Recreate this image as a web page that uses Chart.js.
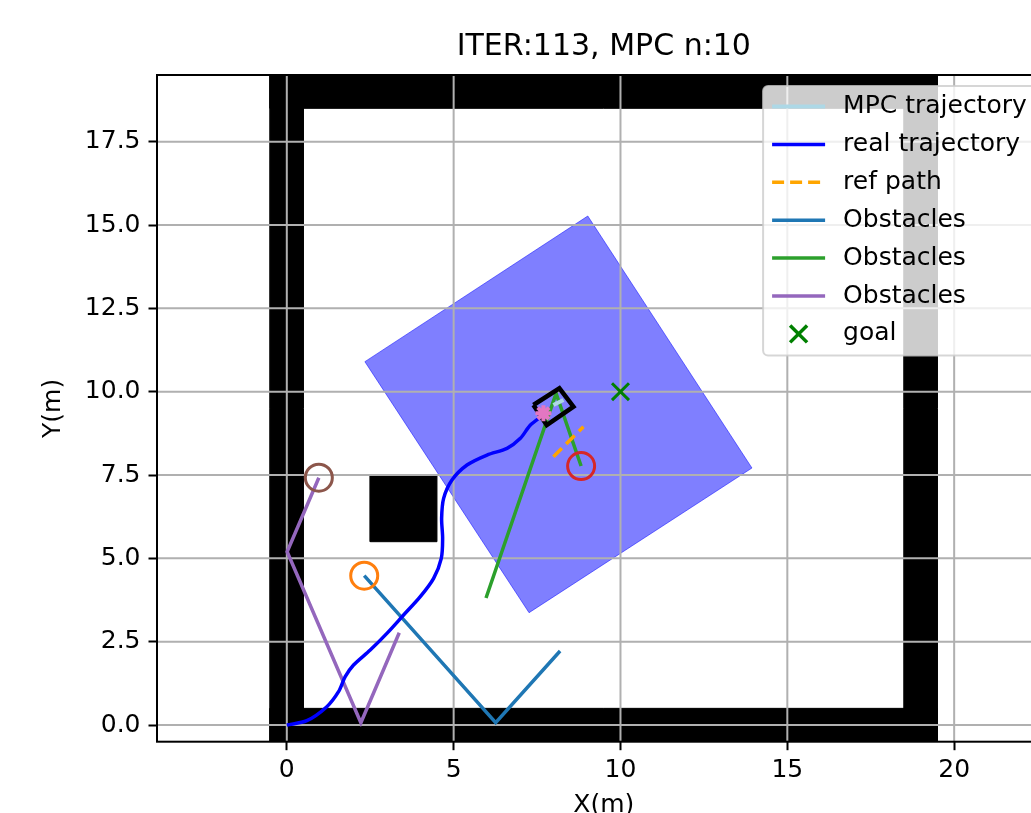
<!DOCTYPE html>
<html>
<head>
<meta charset="utf-8">
<title>ITER:113, MPC n:10</title>
<script src="https://cdn.jsdelivr.net/npm/chart.js@4.4.1/dist/chart.umd.min.js"></script>
<style>
  html, body { margin: 0; padding: 0; background: #fff; overflow: hidden; }
  #wrap { width: 1100px; height: 813px; }
</style>
</head>
<body>
<div id="wrap"><canvas id="plot" width="1100" height="813"></canvas></div>
<script>
/* ---------- data (metres) ---------- */
const xTicks = [0, 5, 10, 15, 20];
const xTickLabels = ['0', '5', '10', '15', '20'];
const yTicks = [0, 2.5, 5, 7.5, 10, 12.5, 15, 17.5];
const yTickLabels = ['0.0', '2.5', '5.0', '7.5', '10.0', '12.5', '15.0', '17.5'];

// walls of the room + square block
const wallBottom = [[-0.5, -0.5], [19.5, -0.5], [19.5, 0.5], [-0.5, 0.5]];
const wallTop = [[-0.5, 18.5], [19.5, 18.5], [19.5, 19.5], [-0.5, 19.5]];
const wallLeft = [[-0.5, -0.5], [0.5, -0.5], [0.5, 19.5], [-0.5, 19.5]];
const wallRight = [[18.5, -0.5], [19.5, -0.5], [19.5, 19.5], [18.5, 19.5]];
const block = [[2.5, 5.5], [4.5, 5.5], [4.5, 7.5], [2.5, 7.5]];

// sensing area (blue rectangle)
const sensorArea = [[2.34, 10.90], [9.02, 15.27], [13.94, 7.71], [7.26, 3.37]];

// trajectories
const realTraj = [
  [0.00, 0.00], [0.60, 0.13], [1.20, 0.55], [1.55, 1.00], [1.75, 1.45],
  [2.00, 1.80], [2.50, 2.25], [3.00, 2.75], [3.50, 3.30], [4.00, 3.85],
  [4.40, 4.40], [4.63, 5.00], [4.67, 5.60], [4.64, 6.20], [4.70, 6.80],
  [4.95, 7.35], [5.40, 7.80], [6.00, 8.10], [6.60, 8.30], [7.00, 8.60],
  [7.30, 9.00], [7.69, 9.30]
];
const mpcTraj = [[7.99, 9.60], [8.29, 9.75]];
const refPath = [[7.99, 8.05], [8.89, 8.95]];
const vehicle = [[7.39, 9.60], [8.17, 10.10], [8.59, 9.55], [7.79, 9.00], [7.39, 9.60]];
const vehicleNow = [[7.69, 9.35]];
const goal = [[10, 10]];

// moving obstacles: predicted paths and current positions
const obstBlue = [[2.32, 4.48], [6.26, 0.07], [8.19, 2.22]];
const obstGreen = [[8.82, 7.77], [8.07, 9.95], [5.97, 3.81]];
const obstPurple = [[0.96, 7.42], [0.01, 5.20], [2.22, 0.07], [3.37, 2.77]];
const obstNowOrange = [[2.32, 4.48]];
const obstNowRed = [[8.82, 7.77]];
const obstNowBrown = [[0.96, 7.42]];

const pts = arr => arr.map(p => ({ x: p[0], y: p[1] }));

Chart.defaults.font.family = '"DejaVu Sans", sans-serif';
Chart.defaults.color = '#000';

/* ---------- helper datasets ---------- */
function patch(data, fill, order, extra) {
  return Object.assign({
    data: pts(data.concat([data[0]])),
    borderColor: fill, backgroundColor: fill, borderWidth: 1,
    fill: 'shape', pointRadius: 0, tension: 0, order: order, clip: 0
  }, extra || {});
}
function path(label, data, color, width, order, extra) {
  return Object.assign({
    label: label, data: pts(data), borderColor: color, backgroundColor: color,
    borderWidth: width, pointRadius: 0, fill: false, tension: 0, order: order
  }, extra || {});
}
function ring(data, color) {
  return {
    data: pts(data), showLine: false, pointStyle: 'circle', pointRadius: 13.5,
    pointBorderWidth: 3, pointBorderColor: color, pointBackgroundColor: 'transparent',
    borderColor: color, order: 9
  };
}

/* ---------- grid drawn above patches, below lines (like matplotlib) ---------- */
const gridAbovePatches = {
  id: 'gridAbovePatches',
  afterDatasetDraw(chart, args) {
    if (!chart.data.datasets[args.index].gridAfter) return;
    const { ctx, chartArea: a, scales: { x, y } } = chart;
    ctx.save();
    ctx.strokeStyle = '#b0b0b0';
    ctx.lineWidth = 2;
    ctx.beginPath();
    x.ticks.forEach(t => {
      const px = x.getPixelForValue(t.value);
      ctx.moveTo(px, a.top); ctx.lineTo(px, a.bottom);
    });
    y.ticks.forEach(t => {
      const py = y.getPixelForValue(t.value);
      ctx.moveTo(a.left, py); ctx.lineTo(a.right, py);
    });
    ctx.stroke();
    ctx.restore();
  },
  afterDatasetsDraw(chart) {
    const { ctx, chartArea: a } = chart;
    ctx.save();
    ctx.strokeStyle = '#000';
    ctx.lineWidth = 2;
    ctx.strokeRect(a.left, a.top, a.right - a.left, a.bottom - a.top);
    ctx.restore();
  }
};

/* ---------- legend box, upper right inside axes ---------- */
const legendBox = {
  id: 'legendBox',
  afterDraw(chart) {
    const { ctx, chartArea: a } = chart;
    const items = chart.data.datasets.filter(d => d.inLegend);
    const right = a.right - 12.5, top = a.top + 11, w = 275, rowH = 37.9;
    const left = right - w, h = 21 * 2 + rowH * (items.length - 1);
    ctx.save();
    ctx.fillStyle = 'rgba(255,255,255,0.8)';
    ctx.strokeStyle = 'rgba(204,204,204,0.8)';
    ctx.lineWidth = 2;
    ctx.beginPath();
    ctx.roundRect(left, top, w, h, 5);
    ctx.fill();
    ctx.stroke();
    items.forEach((d, i) => {
      const cy = top + 20.5 + i * rowH;
      const x0 = left + 9, x1 = left + 62;
      if (d.showLine === false) {
        ctx.strokeStyle = d.pointBorderColor;
        ctx.fillStyle = d.pointBorderColor;
        Chart.helpers.drawPoint(ctx, {
          pointStyle: d.pointStyle, radius: d.pointRadius,
          borderWidth: d.pointBorderWidth, rotation: 0
        }, (x0 + x1) / 2, cy);
      } else {
        ctx.strokeStyle = d.borderColor;
        ctx.lineWidth = d.borderWidth;
        ctx.setLineDash(d.borderDash || []);
        ctx.beginPath();
        ctx.moveTo(x0, cy); ctx.lineTo(x1, cy);
        ctx.stroke();
        ctx.setLineDash([]);
      }
      ctx.fillStyle = '#000';
      ctx.font = '25px "DejaVu Sans", sans-serif';
      ctx.textBaseline = 'middle';
      ctx.textAlign = 'left';
      ctx.fillText(d.label, left + 80, cy);
    });
    ctx.restore();
  }
};

new Chart(document.getElementById('plot'), {
  type: 'line',
  data: {
    datasets: [
      path('MPC trajectory', mpcTraj, '#add8e6', 4, 6, { inLegend: true }),
      path('real trajectory', realTraj, '#0000ff', 3.5, 7, { inLegend: true, tension: 0.3 }),
      path('ref path', refPath, '#ffa500', 3.5, 8, { inLegend: true, borderDash: [12, 6] }),
      path('Obstacles', obstBlue, '#1f77b4', 3.5, 10, { inLegend: true }),
      path('Obstacles', obstGreen, '#2ca02c', 3.5, 10, { inLegend: true }),
      path('Obstacles', obstPurple, '#9467bd', 3.5, 10, { inLegend: true }),
      {
        label: 'goal', data: pts(goal), showLine: false, inLegend: true,
        pointStyle: 'crossRot', pointRadius: 12, pointBorderWidth: 3,
        pointBorderColor: '#008000', borderColor: '#008000', order: 3
      },
      ring(obstNowOrange, '#ff7f0e'),
      ring(obstNowRed, '#d62728'),
      ring(obstNowBrown, '#8c564b'),
      path(undefined, vehicle, '#000', 4.5, 5),
      {
        data: pts(vehicleNow), showLine: false, pointStyle: 'star', pointRadius: 8,
        pointBorderWidth: 4, pointBorderColor: '#e377c2', pointBackgroundColor: '#e377c2',
        order: 4
      },
      patch(sensorArea, 'rgba(0,0,255,0.5)', 25, { gridAfter: true }),
      patch(block, '#000', 30),
      patch(wallBottom, '#000', 30),
      patch(wallTop, '#000', 30),
      patch(wallLeft, '#000', 30),
      patch(wallRight, '#000', 30)
    ]
  },
  options: {
    responsive: false,
    animation: false,
    layout: { padding: { left: 0, right: 49.4, top: 0, bottom: 0 } },
    plugins: {
      legend: { display: false },
      tooltip: { enabled: false },
      title: {
        display: true,
        text: 'ITER:113, MPC n:10',
        fullSize: false,
        color: '#000',
        font: { size: 30, weight: 'normal' },
        padding: { top: 29, bottom: 10 }
      }
    },
    scales: {
      x: {
        type: 'linear', min: -3.89, max: 22.89,
        afterBuildTicks: s => { s.ticks = xTicks.map(v => ({ value: v })); },
        afterFit: s => { s.height = 71.3; },
        ticks: { font: { size: 25 }, color: '#000', padding: 5, maxRotation: 0,
                 callback: (v, i) => xTickLabels[i] },
        grid: { drawOnChartArea: false, drawTicks: true, tickLength: 8.5,
                tickColor: '#000', tickWidth: 2 },
        border: { display: false },
        title: { display: true, text: 'X(m)', color: '#000', font: { size: 25 },
                 padding: { top: 0, bottom: -7 } }
      },
      y: {
        type: 'linear', min: -0.5, max: 19.5,
        afterBuildTicks: s => { s.ticks = yTicks.map(v => ({ value: v })); },
        afterFit: s => { s.width = 157; },
        ticks: { font: { size: 25 }, color: '#000', padding: 8,
                 callback: (v, i) => yTickLabels[i] },
        grid: { drawOnChartArea: false, drawTicks: true, tickLength: 8.5,
                tickColor: '#000', tickWidth: 2 },
        border: { display: false },
        title: { display: true, text: 'Y(m)', color: '#000', font: { size: 25 },
                 padding: { top: 38, bottom: 0 } }
      }
    }
  },
  plugins: [gridAbovePatches, legendBox]
});
</script>
</body>
</html>
